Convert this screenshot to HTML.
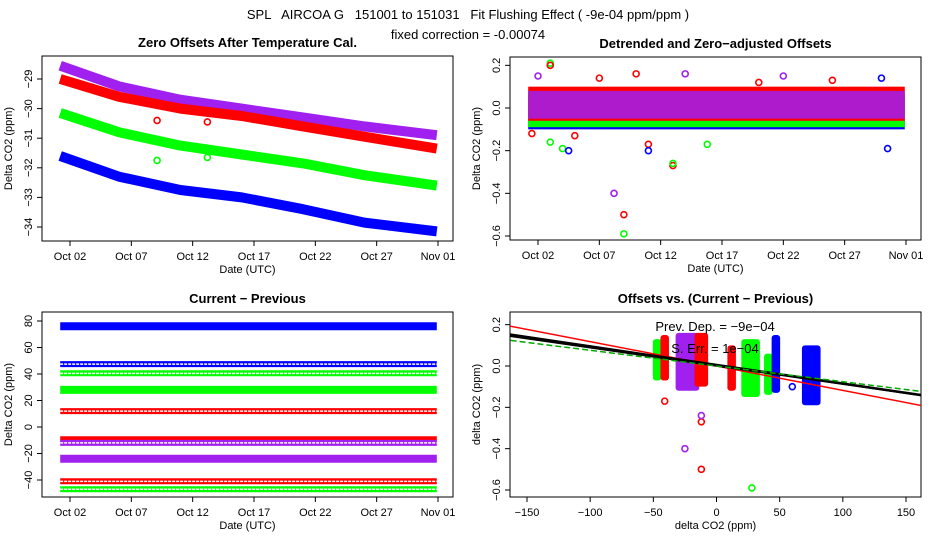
<!DOCTYPE html>
<html><head><meta charset="utf-8"><style>
body{margin:0;background:#fff}
svg{display:block;font-family:"Liberation Sans",sans-serif}
</style></head><body>
<svg id="c" width="936" height="540" viewBox="0 0 936 540" xmlns="http://www.w3.org/2000/svg">
<text x="468" y="19" text-anchor="middle" font-size="13" style="white-space:pre">SPL   AIRCOA G   151001 to 151031   Fit Flushing Effect ( -9e-04 ppm/ppm )</text>
<text x="468" y="39" text-anchor="middle" font-size="13">fixed correction = -0.00074</text>
</svg>
<script>
// ---- data ----
const dayTicks=[2,7,12,17,22,27,32];
const dayTickLabels=["Oct 02","Oct 07","Oct 12","Oct 17","Oct 22","Oct 27","Nov 01"];
const sampleDays=[1.2,6,11,16,21,26,31.9];
const colors={purple:"#a020f0",red:"#ff0000",green:"#00ff00",blue:"#0000ff"};
// panel 1: zero offsets
const p1Ticks=[-29,-30,-31,-32,-33,-34];
const p1Purple=[-28.55,-29.25,-29.7,-30.0,-30.3,-30.6,-30.9];
const p1Red=[-29.0,-29.6,-30.0,-30.25,-30.6,-30.95,-31.35];
const p1Green=[-30.15,-30.8,-31.25,-31.55,-31.85,-32.25,-32.6];
const p1Blue=[-31.6,-32.3,-32.75,-33.0,-33.4,-33.85,-34.15];
const p1OutDays=[9.1,13.2,9.1,13.2];
const p1OutVals=[-30.4,-30.45,-31.75,-31.65];
const p1OutCols=["red","red","green","green"];
// panel 2: detrended (band limits)
const p2BandLo={blue:-0.1,green:-0.09,red:-0.06,purple:-0.05};
const p2BandHi={blue:0.06,green:0.08,red:0.1,purple:0.08};
const p2OutDays=[3,3,4,4.5,8.2,9,9,11,11,13,13,14,15.8,22,30,30.5,2,3,7,10,20,26,1.5,5];
const p2OutVals=[0.21,0.2,-0.19,-0.2,-0.4,-0.5,-0.59,-0.17,-0.2,-0.27,-0.26,0.16,-0.17,0.15,0.14,-0.19,0.15,-0.16,0.14,0.16,0.12,0.13,-0.12,-0.13];
const p2OutCols=["green","red","green","blue","purple","red","green","red","blue","red","green","purple","green","purple","blue","blue","purple","green","red","red","red","red","red","red"];
// panel 3: current - previous
const p3Ticks=[80,60,40,20,0,-20,-40];
const p3Levels=[76,47.5,40.5,28,12,-10,-12,-24,-41,-47];
const p3Cols=["blue","blue","green","green","red","red","purple","purple","red","green"];
const p3Thick=[1,0,0,1,0,1,0,1,0,0];
// panel 4: offsets vs delta
const p4XTicks=[-150,-100,-50,0,50,100,150];
const p4YTicks=[0.2,0,-0.2,-0.4,-0.6];
const p4X=[-47,-41,-23,-12,12,27,41,47,75];
const p4HalfW=[1,1,7,3,1,5,1,1,5];
const p4Min=[-0.07,-0.07,-0.12,-0.1,-0.12,-0.15,-0.14,-0.13,-0.19];
const p4Max=[0.13,0.15,0.16,0.16,0.1,0.13,0.06,0.15,0.1];
const p4Cols=["green","red","purple","red","red","green","green","blue","blue"];
const p4OutX=[-41,-25,-12,-12,28,60,-12];
const p4OutY=[-0.17,-0.4,-0.5,-0.27,-0.59,-0.1,-0.24];
const p4OutC=["red","purple","red","red","green","blue","purple"];
const fitSlopes=[-0.00118,-0.0009,-0.00088,-0.00076];
const fitInts=[0.0,0.005,0.0,0.0];
const fitCols=["#ff0000","#000000","#000000","#00aa00"];

// ---- drawing ----
const svg=document.getElementById('c');
const NS="http://www.w3.org/2000/svg";
function el(tag,attrs,parent,name){const e=document.createElementNS(NS,tag);for(const k in attrs)e.setAttribute(k,attrs[k]);


(parent||svg).appendChild(e);return e;}
function lin(d0,d1,r0,r1){return v=>r0+(v-d0)*(r1-r0)/(d1-d0);}

function panel(o){
  const g=el('g',{},svg,o.name);
  el('rect',{x:o.x0,y:o.y0,width:o.x1-o.x0,height:o.y1-o.y0,fill:'none',stroke:'#000','stroke-width':1},g,'plot-frame');
  const t=el('text',{x:(o.x0+o.x1)/2,y:o.y0-9,'text-anchor':'middle','font-size':13,'font-weight':'bold'},g,'panel-title');t.textContent=o.title;
  o.xt.forEach((v,i)=>{const x=o.sx(v);
    el('line',{x1:x,x2:x,y1:o.y1,y2:o.y1+5,stroke:'#000'},g,'x-tick');
    const tx=el('text',{x:x,y:o.y1+19,'text-anchor':'middle','font-size':11},g,'x-tick-label');tx.textContent=o.xl[i];});
  el('line',{x1:o.sx(o.xt[0]),x2:o.sx(o.xt[o.xt.length-1]),y1:o.y1,y2:o.y1,stroke:'#000'},g,'x-axis');
  o.yt.forEach(v=>{const y=o.sy(v);
    el('line',{x1:o.x0,x2:o.x0-5,y1:y,y2:y,stroke:'#000'},g,'y-tick');
    const tx=el('text',{x:o.x0-10,y:y,'text-anchor':'middle','font-size':11,transform:`rotate(-90 ${o.x0-10} ${y})`},g,'y-tick-label');
    tx.textContent=(v<0?'\u2212':'')+Math.abs(v).toFixed(o.dec);});
  el('line',{x1:o.x0,x2:o.x0,y1:o.sy(o.yt[0]),y2:o.sy(o.yt[o.yt.length-1]),stroke:'#000'},g,'y-axis');
  const xl=el('text',{x:(o.x0+o.x1)/2,y:o.y1+32,'text-anchor':'middle','font-size':11},g,'x-axis-title');xl.textContent=o.xtitle;
  const yx=o.x0-30,yy=(o.y0+o.y1)/2;
  const yl=el('text',{x:yx,y:yy,'text-anchor':'middle','font-size':11,transform:`rotate(-90 ${yx} ${yy})`},g,'y-axis-title');yl.textContent=o.ytitle;
  const cp=el('clipPath',{id:o.name+'-clip'},g,'clip');el('rect',{x:o.x0,y:o.y0,width:o.x1-o.x0,height:o.y1-o.y0},cp,'clip-rect');
  return el('g',{'clip-path':`url(#${o.name}-clip)`},g,'plot-area');
}
function band(g,xs,ys,sx,sy,col,w,name){
  const pts=xs.map((x,i)=>sx(x).toFixed(1)+','+sy(ys[i]).toFixed(1)).join(' ');
  el('polyline',{points:pts,fill:'none',stroke:col,'stroke-width':w,'stroke-linejoin':'round','stroke-linecap':'butt'},g,name);
}

// Panel 1
{const sx=lin(2,32,70,438),sy=lin(-29,-34,79,227);
const g=panel({name:'zero-offsets-panel',x0:42,x1:453,y0:56,y1:241,sx,sy,xt:dayTicks,xl:dayTickLabels,yt:p1Ticks,dec:0,title:'Zero Offsets After Temperature Cal.',xtitle:'Date (UTC)',ytitle:'Delta CO2 (ppm)'});
band(g,sampleDays,p1Blue,sx,sy,colors.blue,10,'series-blue');
band(g,sampleDays,p1Green,sx,sy,colors.green,10,'series-green');
band(g,sampleDays,p1Purple,sx,sy,colors.purple,10,'series-purple');
band(g,sampleDays,p1Red,sx,sy,colors.red,10,'series-red');
p1OutDays.forEach((d,i)=>el('circle',{cx:sx(d),cy:sy(p1OutVals[i]),r:3,fill:'none',stroke:colors[p1OutCols[i]],'stroke-width':1.6},g,'outlier-point'));}

// Panel 2
{const sx=lin(2,32,538,906),sy=lin(0,-0.6,108,236);
const g=panel({name:'detrended-panel',x0:510,x1:921,y0:57,y1:240,sx,sy,xt:dayTicks,xl:dayTickLabels,yt:[0.2,0,-0.2,-0.4,-0.6],dec:1,title:'Detrended and Zero\u2212adjusted Offsets',xtitle:'Date (UTC)',ytitle:'Delta CO2 (ppm)'});
["blue","green","red","purple"].forEach(c=>{
  el('rect',{x:sx(1.2),y:sy(p2BandHi[c]),width:sx(31.9)-sx(1.2),height:sy(p2BandLo[c])-sy(p2BandHi[c]),fill:colors[c],opacity:c=="purple"?0.85:1},g,'band-'+c);});
p2OutDays.forEach((d,i)=>el('circle',{cx:sx(d),cy:sy(p2OutVals[i]),r:3,fill:'none',stroke:colors[p2OutCols[i]],'stroke-width':1.6},g,'outlier-point'));}

// Panel 3
{const sx=lin(2,32,70,438),sy=lin(80,-40,321,480);
const g=panel({name:'current-previous-panel',x0:42,x1:453,y0:312,y1:497,sx,sy,xt:dayTicks,xl:dayTickLabels,yt:p3Ticks,dec:0,title:'Current \u2212 Previous',xtitle:'Date (UTC)',ytitle:'Delta CO2 (ppm)'});
p3Levels.forEach((lv,i)=>{
  const c=colors[p3Cols[i]];
  if(p3Thick[i]){band(g,[1.2,31.9],[lv,lv],sx,sy,c,8,'band-'+p3Cols[i]);}
  else{band(g,[1.2,31.9],[lv,lv],sx,sy,c,6,'band-'+p3Cols[i]);
       el('line',{x1:sx(1.2),x2:sx(31.9),y1:sy(lv),y2:sy(lv),stroke:'#fff','stroke-width':1.5,'stroke-dasharray':'3 1'},g,'band-inner');}
});}

// Panel 4
{const sx=lin(-150,150,527,906),sy=lin(0,-0.6,366,490);
const g=panel({name:'offsets-vs-delta-panel',x0:510,x1:921,y0:312,y1:497,sx,sy,xt:p4XTicks,xl:p4XTicks.map(v=>(v<0?'\u2212':'')+Math.abs(v)),yt:p4YTicks,dec:1,title:'Offsets vs. (Current \u2212 Previous)',xtitle:'delta CO2 (ppm)',ytitle:'delta CO2 (ppm)'});
p4X.forEach((x,i)=>el('rect',{x:sx(x-p4HalfW[i])-3,y:sy(p4Max[i]),width:sx(x+p4HalfW[i])-sx(x-p4HalfW[i])+6,height:sy(p4Min[i])-sy(p4Max[i]),rx:3,fill:colors[p4Cols[i]]},g,'cluster-'+p4Cols[i]));
p4OutX.forEach((x,i)=>el('circle',{cx:sx(x),cy:sy(p4OutY[i]),r:3,fill:'none',stroke:colors[p4OutC[i]],'stroke-width':1.6},g,'outlier-point'));
fitSlopes.forEach((s,i)=>el('line',{x1:sx(-170),x2:sx(170),y1:sy(fitInts[i]+s*-170),y2:sy(fitInts[i]+s*170),stroke:fitCols[i],'stroke-width':i==1?2.5:1.5,'stroke-dasharray':i==3?'6 3':'none'},g,'fit-line'));
const t1=el('text',{x:715,y:331,'text-anchor':'middle','font-size':13},g,'prev-dep-label');t1.textContent='Prev. Dep. =  \u22129e\u221204';
const t2=el('text',{x:715,y:353,'text-anchor':'middle','font-size':13},g,'std-err-label');t2.textContent='S. Err. =  1e\u221204';}
</script>
</body></html>
